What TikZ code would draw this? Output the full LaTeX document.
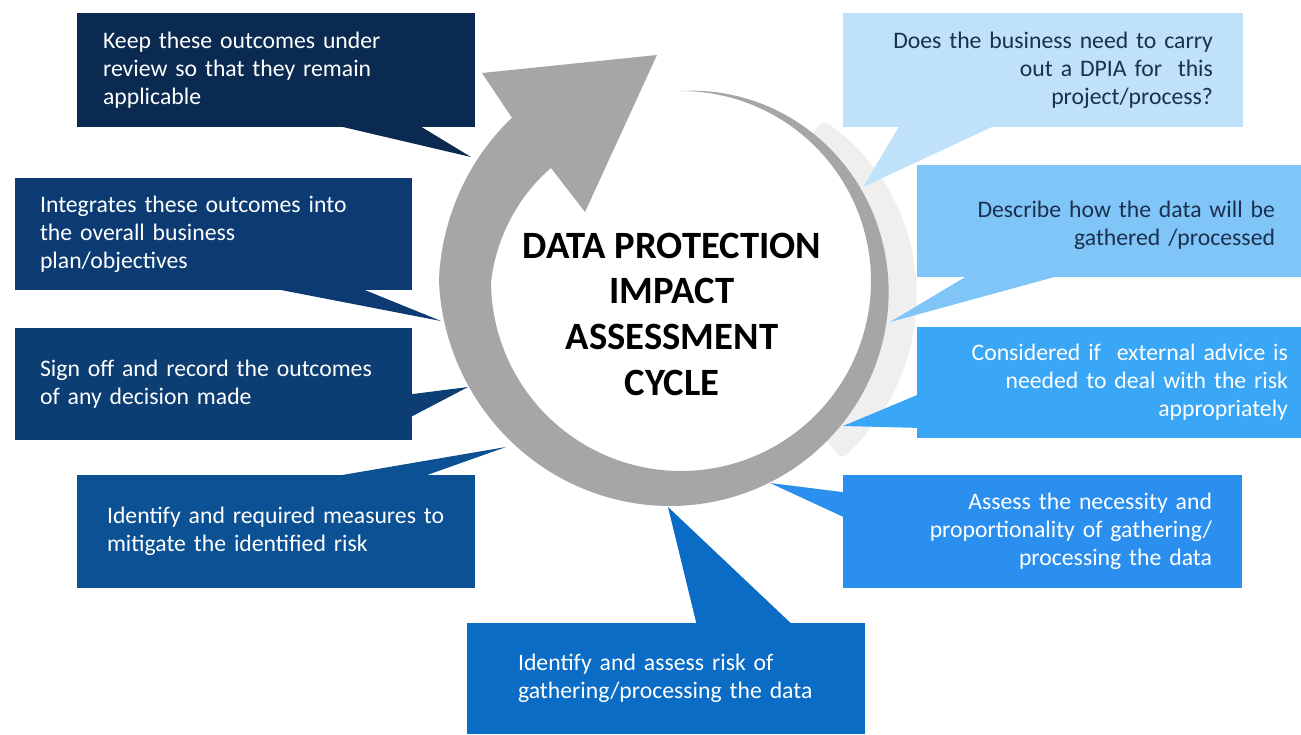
\documentclass[tikz,border=0pt]{standalone}
\usepackage{fontspec}
\setmainfont{Carlito}
\definecolor{cKeep}{HTML}{0A2A52}
\definecolor{cDoes}{HTML}{BFE1F9}
\definecolor{cInteg}{HTML}{0B3B72}
\definecolor{cSign}{HTML}{0C3D73}
\definecolor{cIdReq}{HTML}{0C5193}
\definecolor{cIdAss}{HTML}{0B6CC5}
\definecolor{cAssess}{HTML}{2B8FEF}
\definecolor{cConsid}{HTML}{3AA6F6}
\definecolor{cDescr}{HTML}{7FC5F8}
\definecolor{cDarkText}{HTML}{1B2F4E}
\definecolor{cRing}{HTML}{A6A6A6}
\definecolor{cShadow}{HTML}{EFEFEF}
\newcommand{\dpiaRingPath}{%
  plot[domain=0:314, samples=90, variable=\t, smooth]
    ({681 + (190 + 0.193*min(\t,270) - 0.16*max(\t-270,0))*sin(\t)},
     {281 - (190 + 0.193*min(\t,270) - 0.16*max(\t-270,0))*cos(\t)})
  -- (482,73) -- (657,55) -- (585,212)
  -- plot[domain=311:0, samples=90, variable=\t, smooth]
    ({681 + (190 - 0.43*max(\t-270,0))*sin(\t)},
     {281 - (190 - 0.43*max(\t-270,0))*cos(\t)})
  -- cycle}
\newcommand{\dpiaShadowPath}{%
  plot[domain=38:140, samples=50, variable=\t, smooth]
    ({681 + (190 + 0.193*\t)*sin(\t)}, {281 - (190 + 0.193*\t)*cos(\t)})
  -- plot[domain=140:38, samples=50, variable=\t, smooth]
    ({681 + 185*sin(\t)}, {281 - 185*cos(\t)})
  -- cycle}
\begin{document}
\begin{tikzpicture}[x=0.02cm,y=-0.02cm,
  callout/.style={rectangle, inner ysep=0pt, font=\fontsize{13.5}{16}\selectfont, text=white},
  title/.style={align=center, font=\fontsize{22}{26}\selectfont\bfseries, text=black},
]
\useasboundingbox (0,0) rectangle (1301,734);
\fill[white] (0,0) rectangle (1301,734);

% soft shadow of the ring (right side)
\begin{scope}[shift={(22,3)}]
  \filldraw[cShadow, line width=0.24cm, line join=round] \dpiaShadowPath;
\end{scope}

% tail tips
\coordinate (tKeep) at (471,157);
\coordinate (tDoes) at (863,187);
\coordinate (tInteg) at (441,321);
\coordinate (tSign) at (468,387);
\coordinate (tIdReq) at (506,447);
\coordinate (tIdAss) at (668,507);
\coordinate (tAssess) at (770,483);
\coordinate (tConsid) at (843,426);
\coordinate (tDescr) at (890,322);

% tails
\fill[cKeep] (313,120) -- (410,120) -- (tKeep) -- cycle;
\fill[cDoes] (903,120) -- (1007,120) -- (tDoes) -- cycle;
\fill[cInteg] (250,284) -- (350,284) -- (tInteg) -- cycle;
\fill[cSign] (405,395) -- (405,420) -- (tSign) -- cycle;
\fill[cIdReq] (313,480) -- (413,480) -- (tIdReq) -- cycle;
\fill[cIdAss] (698,630) -- (798,630) -- (tIdAss) -- cycle;
\fill[cAssess] (850,493) -- (850,520) -- (tAssess) -- cycle;
\fill[cConsid] (922,393) -- (922,428) -- (tConsid) -- cycle;
\fill[cDescr] (977,270) -- (1080,270) -- (tDescr) -- cycle;

% boxes
\node[callout, fill=cKeep, minimum height=2.28cm, text width=6.92cm, inner xsep=0.52cm, align=left]
  (keep) at (276,70) {Keep these outcomes under\\review so that they remain\\applicable};
\node[callout, fill=cDoes, text=cDarkText, minimum height=2.28cm, text width=6.8cm, inner xsep=0.6cm, align=right]
  (does) at (1043,70) {Does the business need to carry\\out a DPIA for~ this\\project/process?};
\node[callout, fill=cInteg, minimum height=2.24cm, text width=6.94cm, inner xsep=0.5cm, align=left]
  (integ) at (213.5,234) {Integrates these outcomes into\\the overall business\\plan/objectives};
\node[callout, fill=cSign, minimum height=2.24cm, text width=6.94cm, inner xsep=0.5cm, align=left]
  (sign) at (213.5,384) {Sign off and record the outcomes\\of any decision made};
\node[callout, fill=cIdReq, minimum height=2.26cm, text width=6.76cm, inner xsep=0.6cm, align=left]
  (idreq) at (276,531.5) {Identify and required measures to\\mitigate the identified risk};
\node[callout, fill=cIdAss, minimum height=2.22cm, text width=5.92cm, inner xsep=1.02cm, align=left]
  (idass) at (666,678.5) {Identify and assess risk of\\gathering/processing the data};
\node[callout, fill=cAssess, minimum height=2.26cm, text width=6.78cm, inner xsep=0.6cm, align=right]
  (assess) at (1042.5,531.5) {Assess the necessity and\\proportionality of gathering/\\processing the data};
\node[callout, fill=cConsid, minimum height=2.22cm, text width=7.16cm, inner xsep=0.26cm, align=right]
  (consid) at (1109,382.5) {Considered if~ external advice is\\needed to deal with the risk\\appropriately};
\node[callout, fill=cDescr, text=cDarkText, minimum height=2.24cm, text width=6.64cm, inner xsep=0.52cm, align=right]
  (descr) at (1109,221) {\rule{0pt}{14pt}Describe how the data will be\\gathered /processed};

% white interior and ring
\fill[white] (681,281) circle[radius=190];
\fill[cRing] \dpiaRingPath;

\node[title] (ttl) at (672,314) {DATA PROTECTION\\IMPACT\\ASSESSMENT\\CYCLE};
\end{tikzpicture}
\end{document}
